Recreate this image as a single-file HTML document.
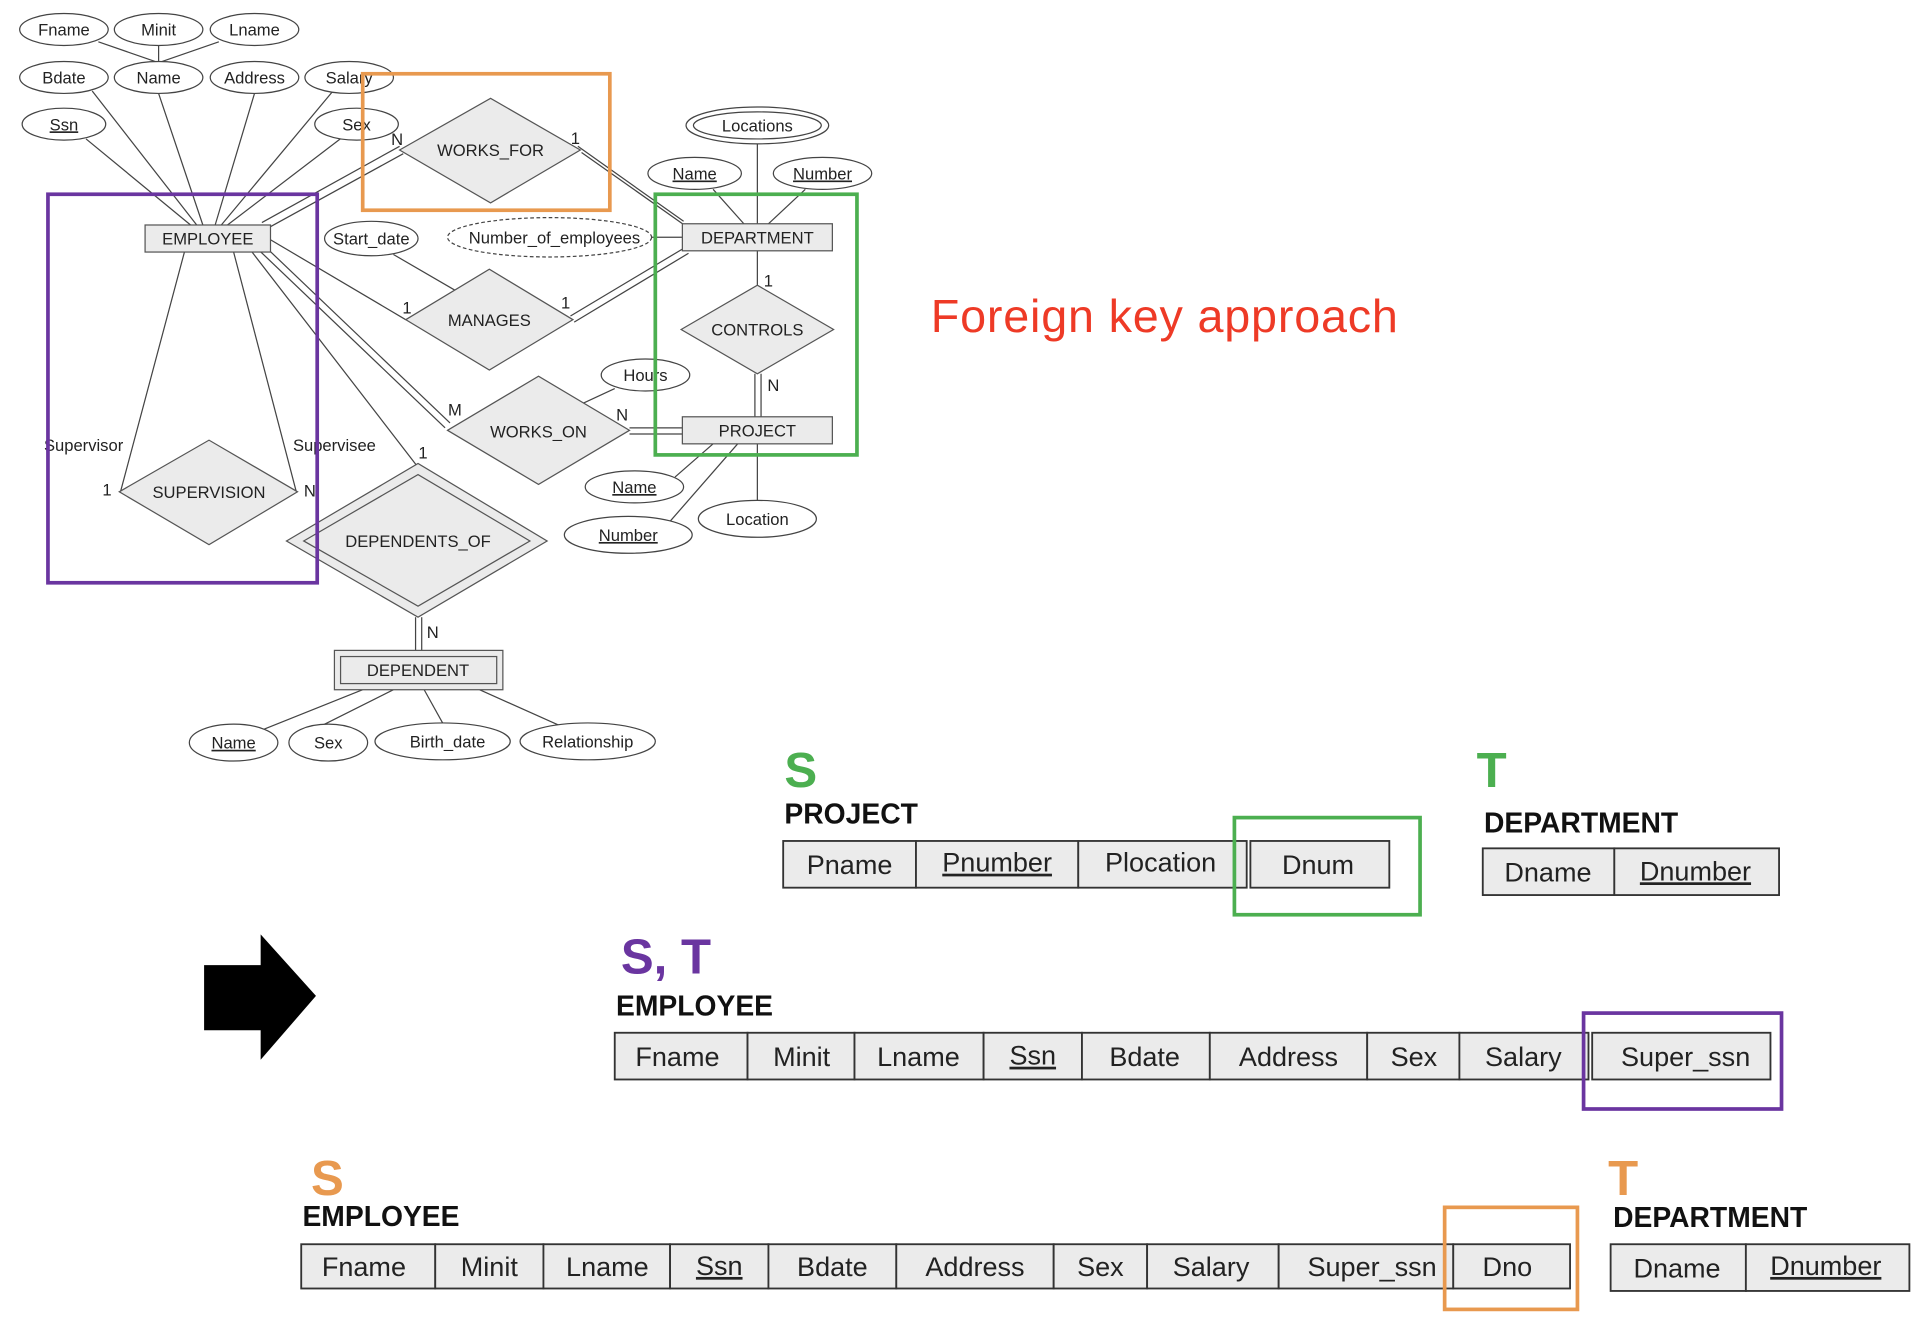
<!DOCTYPE html>
<html><head><meta charset="utf-8"><style>
html,body{margin:0;padding:0;background:#fff;}
svg{display:block;}
text{font-family:"Liberation Sans",sans-serif;}
</style></head><body>
<svg width="1918" height="1318" viewBox="0 0 1560 1072" preserveAspectRatio="none" xmlns="http://www.w3.org/2000/svg">
<g stroke="#444" stroke-width="1" fill="none">
<!-- attribute lines -->
<line x1="80" y1="34" x2="129" y2="51"/><line x1="129" y1="37" x2="129" y2="50"/><line x1="178" y1="34" x2="129" y2="51"/>
<line x1="75" y1="74" x2="160" y2="183"/><line x1="129" y1="76" x2="165" y2="183"/><line x1="207" y1="76" x2="175" y2="183"/>
<line x1="270" y1="75" x2="180" y2="183"/><line x1="70" y1="113" x2="155" y2="183"/><line x1="278" y1="112" x2="185" y2="183"/>
<!-- works_for -->
<line x1="213" y1="181" x2="325" y2="119"/><line x1="217" y1="186" x2="328" y2="125"/>
<line x1="470" y1="119" x2="556" y2="180"/><line x1="473" y1="124" x2="558" y2="184"/>
<!-- manages -->
<line x1="220" y1="195" x2="330" y2="260"/>
<line x1="464" y1="257" x2="556" y2="202"/><line x1="467" y1="262" x2="560" y2="206"/>
<line x1="320" y1="207" x2="370" y2="236"/>
<line x1="530" y1="193" x2="555" y2="193"/>
<!-- dept attrs -->
<line x1="616" y1="117" x2="616" y2="182"/><line x1="580" y1="154" x2="605" y2="182"/><line x1="655" y1="154" x2="625" y2="182"/>
<!-- controls -->
<line x1="616" y1="204" x2="616" y2="232"/>
<line x1="614" y1="304" x2="614" y2="339"/><line x1="619" y1="304" x2="619" y2="339"/>
<!-- works_on -->
<line x1="208" y1="201" x2="362" y2="348"/><line x1="213" y1="198" x2="366" y2="344"/>
<line x1="512" y1="348" x2="555" y2="348"/><line x1="512" y1="353" x2="555" y2="353"/>
<line x1="470" y1="330" x2="500" y2="316"/>
<!-- project attrs -->
<line x1="580" y1="361" x2="549" y2="388"/><line x1="600" y1="361" x2="545" y2="424"/><line x1="616" y1="361" x2="616" y2="408"/>
<!-- supervision -->
<line x1="150" y1="205" x2="98" y2="400"/><line x1="190" y1="205" x2="241" y2="400"/>
<!-- dependents_of -->
<line x1="205" y1="205" x2="340" y2="380"/>
<line x1="338" y1="502" x2="338" y2="529"/><line x1="343" y1="502" x2="343" y2="529"/>
<!-- dependent attrs -->
<line x1="295" y1="561" x2="215" y2="593"/><line x1="320" y1="561" x2="262" y2="590"/><line x1="345" y1="561" x2="360" y2="588"/><line x1="390" y1="561" x2="455" y2="590"/>
</g>
<g fill="#fff" stroke="#444" stroke-width="1">
<ellipse cx="52" cy="24" rx="36" ry="13"/><ellipse cx="129" cy="24" rx="36" ry="13"/><ellipse cx="207" cy="24" rx="36" ry="13"/>
<ellipse cx="52" cy="63" rx="36" ry="13"/><ellipse cx="129" cy="63" rx="36" ry="13"/><ellipse cx="207" cy="63" rx="36" ry="13"/><ellipse cx="284" cy="63" rx="36" ry="13"/>
<ellipse cx="52" cy="101" rx="34" ry="13"/><ellipse cx="290" cy="101" rx="34" ry="13"/>
<ellipse cx="302" cy="194" rx="38" ry="14"/>
<ellipse cx="447" cy="193" rx="83" ry="16" stroke-dasharray="3,2"/>
<ellipse cx="616" cy="102" rx="58" ry="15"/><ellipse cx="616" cy="102" rx="52" ry="11"/>
<ellipse cx="565" cy="141" rx="38" ry="13"/><ellipse cx="669" cy="141" rx="40" ry="13"/>
<ellipse cx="525" cy="305" rx="36" ry="13"/>
<ellipse cx="516" cy="396" rx="40" ry="13"/><ellipse cx="511" cy="435" rx="52" ry="15"/><ellipse cx="616" cy="422" rx="48" ry="15"/>
<ellipse cx="190" cy="604" rx="36" ry="15"/><ellipse cx="267" cy="604" rx="32" ry="15"/><ellipse cx="360" cy="603" rx="55" ry="15"/><ellipse cx="478" cy="603" rx="55" ry="15"/>
</g>
<g fill="#ebebeb" stroke="#555" stroke-width="1">
<rect x="118" y="183" width="102" height="22"/>
<rect x="555" y="182" width="122" height="22"/>
<rect x="555" y="339" width="122" height="22"/>
<rect x="272" y="529" width="137" height="32"/><rect x="277" y="534" width="127" height="22"/>
<polygon points="325,122 399,80 472,122 399,165"/>
<polygon points="330,260 398,219 466,260 398,301"/>
<polygon points="554,268 616,232 678,268 616,304"/>
<polygon points="364,350 438,306 512,350 438,394"/>
<polygon points="97,400 170,358 242,400 170,443"/>
<polygon points="233,440 340,377 445,440 340,502"/><polygon points="247,440 340,386 431,440 340,493"/>
</g>
<g font-size="13.5" fill="#222" text-anchor="middle">
<text x="52" y="29">Fname</text><text x="129" y="29">Minit</text><text x="207" y="29">Lname</text>
<text x="52" y="68">Bdate</text><text x="129" y="68">Name</text><text x="207" y="68">Address</text><text x="284" y="68">Salary</text>
<text x="52" y="106" text-decoration="underline">Ssn</text><text x="290" y="106">Sex</text>
<text x="169" y="199">EMPLOYEE</text><text x="616" y="198">DEPARTMENT</text><text x="616" y="355">PROJECT</text><text x="340" y="550">DEPENDENT</text>
<text x="399" y="127">WORKS_FOR</text><text x="398" y="265">MANAGES</text><text x="616" y="273">CONTROLS</text><text x="438" y="356">WORKS_ON</text>
<text x="170" y="405">SUPERVISION</text><text x="340" y="445">DEPENDENTS_OF</text>
<text x="302" y="199">Start_date</text><text x="451" y="198">Number_of_employees</text>
<text x="616" y="107">Locations</text><text x="565" y="146" text-decoration="underline">Name</text><text x="669" y="146" text-decoration="underline">Number</text>
<text x="525" y="310">Hours</text><text x="516" y="401" text-decoration="underline">Name</text><text x="511" y="440" text-decoration="underline">Number</text><text x="616" y="427">Location</text>
<text x="190" y="609" text-decoration="underline">Name</text><text x="267" y="609">Sex</text><text x="364" y="608">Birth_date</text><text x="478" y="608">Relationship</text>
<text x="323" y="118">N</text><text x="468" y="117">1</text><text x="331" y="255">1</text><text x="460" y="251">1</text><text x="625" y="233">1</text><text x="629" y="318">N</text>
<text x="370" y="338">M</text><text x="506" y="342">N</text><text x="344" y="373">1</text><text x="352" y="519">N</text>
<text x="68" y="367">Supervisor</text><text x="87" y="403">1</text><text x="272" y="367">Supervisee</text><text x="252" y="404">N</text>
</g>
<g fill="none" stroke-width="3">
<rect x="295" y="60" width="201" height="111" stroke="#E8994F"/>
<rect x="39" y="158" width="219" height="316" stroke="#6A35A0"/>
<rect x="533" y="158" width="164" height="212" stroke="#4CAF50"/>
</g>
<text x="757" y="270" font-size="38" fill="#EE3A26" textLength="380">Foreign key approach</text>
<polygon points="166,785 212,785 212,760 257,810 212,862 212,838 166,838" fill="#000"/>
<!-- tables -->
<g font-weight="bold" font-size="40">
<text x="638" y="640" fill="#4CAF50">S</text><text x="1201" y="640" fill="#4CAF50">T</text>
<text x="505" y="792" fill="#6A35A0">S, T</text>
<text x="253" y="972" fill="#E8994F">S</text><text x="1308" y="972" fill="#E8994F">T</text>
</g>
<g font-weight="bold" font-size="23" fill="#111">
<text x="638" y="670">PROJECT</text><text x="1207" y="677">DEPARTMENT</text>
<text x="501" y="826">EMPLOYEE</text><text x="246" y="997">EMPLOYEE</text><text x="1312" y="998">DEPARTMENT</text>
</g>
<g fill="#ebebeb" stroke="#333" stroke-width="1.5">
<rect x="637" y="684" width="108" height="38"/><rect x="745" y="684" width="132" height="38"/><rect x="877" y="684" width="137" height="38"/><rect x="1017" y="684" width="113" height="38"/>
<rect x="1206" y="690" width="107" height="38"/><rect x="1313" y="690" width="134" height="38"/>
<rect x="500" y="840" width="108" height="38"/><rect x="608" y="840" width="87" height="38"/><rect x="695" y="840" width="105" height="38"/><rect x="800" y="840" width="80" height="38"/><rect x="880" y="840" width="104" height="38"/><rect x="984" y="840" width="128" height="38"/><rect x="1112" y="840" width="75" height="38"/><rect x="1187" y="840" width="105" height="38"/><rect x="1295" y="840" width="145" height="38"/>
<rect x="245" y="1012" width="109" height="36"/><rect x="354" y="1012" width="88" height="36"/><rect x="442" y="1012" width="103" height="36"/><rect x="545" y="1012" width="80" height="36"/><rect x="625" y="1012" width="104" height="36"/><rect x="729" y="1012" width="128" height="36"/><rect x="857" y="1012" width="76" height="36"/><rect x="933" y="1012" width="107" height="36"/><rect x="1040" y="1012" width="142" height="36"/><rect x="1182" y="1012" width="95" height="36"/>
<rect x="1310" y="1012" width="110" height="38"/><rect x="1420" y="1012" width="133" height="38"/>
</g>
<g font-size="22" fill="#222" text-anchor="middle">
<text x="691" y="711">Pname</text><text x="811" y="709" text-decoration="underline">Pnumber</text><text x="944" y="709">Plocation</text><text x="1072" y="711">Dnum</text>
<text x="1259" y="717">Dname</text><text x="1379" y="716" text-decoration="underline">Dnumber</text>
<text x="551" y="867">Fname</text><text x="652" y="867">Minit</text><text x="747" y="867">Lname</text><text x="840" y="866" text-decoration="underline">Ssn</text><text x="931" y="867">Bdate</text><text x="1048" y="867">Address</text><text x="1150" y="867">Sex</text><text x="1239" y="867">Salary</text><text x="1371" y="867">Super_ssn</text>
<text x="296" y="1038">Fname</text><text x="398" y="1038">Minit</text><text x="494" y="1038">Lname</text><text x="585" y="1037" text-decoration="underline">Ssn</text><text x="677" y="1038">Bdate</text><text x="793" y="1038">Address</text><text x="895" y="1038">Sex</text><text x="985" y="1038">Salary</text><text x="1116" y="1038">Super_ssn</text><text x="1226" y="1038">Dno</text>
<text x="1364" y="1039">Dname</text><text x="1485" y="1037" text-decoration="underline">Dnumber</text>
</g>
<g fill="none" stroke-width="3">
<rect x="1004" y="665" width="151" height="79" stroke="#4CAF50"/>
<rect x="1288" y="824" width="161" height="78" stroke="#6A35A0"/>
<rect x="1175" y="982" width="108" height="83" stroke="#E8994F"/>
</g>
</svg>
</body></html>
